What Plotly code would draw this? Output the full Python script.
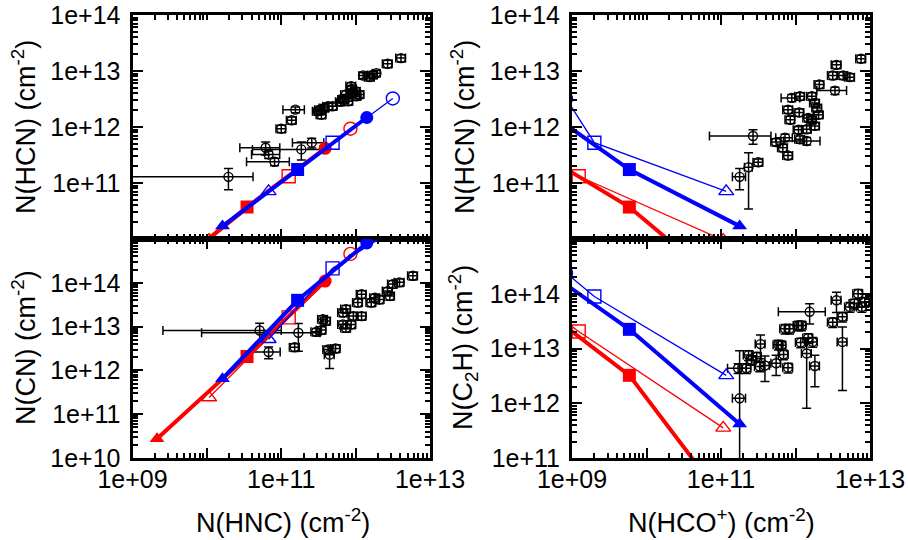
import plotly.graph_objects as go

# ---------------- model tracks (log10 column densities) ----------------
# order of points: triangle, square, circle
model_names = ["red_open", "red_filled", "blue_open", "blue_filled"]
HNC = {
    "red_filled": [9.33, 10.54, 11.59],
    "red_open": [10.03, 11.10, 11.93],
    "blue_filled": [10.21, 11.22, 12.15],
    "blue_open": [10.83, 11.69, 12.50],
}
HCOp = {
    "red_filled": [10.95, 9.77, 8.46],
    "red_open": [11.03, 9.09, 8.15],
    "blue_filled": [11.25, 9.77, 8.78],
    "blue_open": [11.07, 9.30, 8.92],
}
HCN = {
    "red_filled": [9.25, 10.57, 11.62],
    "red_open": [9.98, 11.12, 11.97],
    "blue_filled": [10.23, 11.24, 12.17],
    "blue_open": [10.85, 11.72, 12.51],
}
CN = {
    "red_filled": [10.44, 12.32, 14.04],
    "red_open": [11.38, 13.21, 14.66],
    "blue_filled": [11.81, 13.60, 14.91],
    "blue_open": [12.71, 14.33, 15.20],
}
C2H = {
    "red_filled": [10.39, 12.51, 13.87],
    "red_open": [11.55, 13.31, 14.25],
    "blue_filled": [11.62, 13.35, 14.30],
    "blue_open": [12.51, 13.95, 14.38],
}

# ---------------- observations (log10 x, log10 y, rel. err x, rel. err y) ----------------
obs_hnc_hcn_x = [10.29, 10.79, 10.83, 10.91, 11.27, 11.41, 11.00, 11.14, 11.19, 11.49, 11.54, 11.58,
                 11.63, 11.69, 11.52, 11.83, 11.87, 11.94, 11.96, 12.01, 12.05, 11.90, 12.10, 12.19,
                 12.23, 12.28, 12.43, 12.61, 11.95, 12.00, 11.80, 11.85]
obs_hnc_hcn_y = [11.11, 11.63, 11.51, 11.38, 11.60, 11.72, 11.97, 12.12, 12.31, 12.28, 12.22, 12.34,
                 12.37, 12.37, 12.31, 12.49, 12.58, 12.73, 12.61, 12.55, 12.58, 12.46, 12.92, 12.89,
                 12.93, 12.96, 13.13, 13.23, 12.68, 12.64, 12.45, 12.50]
obs_hnc_hcn_ex = [1.14, 0.55, 0.41, 0.58, 0.78, 0.45, 0.15, 0.15, 0.32, 0.15, 0.15, 0.15,
                  0.15, 0.15, 0.15, 0.15, 0.15, 0.15, 0.15, 0.15, 0.15, 0.15, 0.12, 0.15,
                  0.15, 0.12, 0.15, 0.15, 0.15, 0.15, 0.15, 0.15]
obs_hnc_hcn_ey = [0.41, 0.26, 0.15, 0.15, 0.35, 0.20, 0.15, 0.15, 0.12, 0.15, 0.15, 0.15,
                  0.15, 0.15, 0.15, 0.15, 0.15, 0.15, 0.15, 0.15, 0.15, 0.15, 0.12, 0.15,
                  0.15, 0.12, 0.15, 0.15, 0.15, 0.15, 0.15, 0.15]

obs_hco_hcn_x = [11.43, 11.25, 11.37, 11.50, 11.74, 11.86, 11.83, 11.90, 12.06, 12.15, 12.04, 12.15,
                 11.93, 11.90, 12.05, 11.95, 12.06, 12.22, 12.26, 12.29, 12.22, 12.26, 12.17, 12.31,
                 12.32, 12.53, 12.50, 12.64, 12.73, 12.55, 12.88]
obs_hco_hcn_y = [11.84, 11.11, 11.28, 11.37, 11.73, 11.81, 11.63, 11.49, 11.78, 11.75, 11.95, 11.96,
                 12.13, 12.31, 12.26, 12.52, 12.55, 12.55, 12.43, 12.34, 12.13, 12.02, 12.16, 12.22,
                 12.76, 12.65, 12.92, 12.92, 12.89, 13.11, 13.22]
obs_hco_hcn_ex = [0.74, 0.20, 0.12, 0.15, 0.15, 0.25, 0.15, 0.15, 0.15, 0.51, 0.15, 0.15,
                  0.15, 0.15, 0.15, 0.28, 0.15, 0.15, 0.15, 0.15, 0.15, 0.15, 0.15, 0.15,
                  0.15, 0.43, 0.15, 0.15, 0.15, 0.15, 0.15]
obs_hco_hcn_ey = [0.29, 0.41, 0.82, 0.15, 0.15, 0.15, 0.15, 0.15, 0.15, 0.15, 0.15, 0.15,
                  0.15, 0.15, 0.15, 0.15, 0.15, 0.15, 0.15, 0.15, 0.15, 0.15, 0.15, 0.15,
                  0.15, 0.15, 0.15, 0.15, 0.15, 0.15, 0.15]

obs_hnc_cn_x = [10.71, 10.83, 11.23, 11.18, 11.47, 11.54, 11.60, 11.63, 11.65, 11.73, 11.83, 11.87,
                11.83, 11.87, 11.94, 12.08, 12.08, 12.21, 12.26, 12.32, 12.43, 12.50, 12.59, 12.46,
                12.77, 12.03, 11.56, 11.97]
obs_hnc_cn_y = [12.91, 12.42, 12.86, 12.53, 12.88, 12.92, 13.13, 12.48, 12.36, 12.50, 13.32, 13.40,
                13.05, 12.97, 13.05, 13.24, 13.74, 13.55, 13.66, 13.62, 13.81, 13.97, 14.01, 13.70,
                14.16, 13.55, 13.17, 13.24]
obs_hnc_cn_ex = [0.95, 0.43, 0.95, 0.15, 0.15, 0.15, 0.15, 0.15, 0.15, 0.15, 0.15, 0.15,
                 0.15, 0.15, 0.15, 0.15, 0.15, 0.15, 0.15, 0.15, 0.15, 0.15, 0.15, 0.15,
                 0.15, 0.15, 0.15, 0.15]
obs_hnc_cn_ey = [0.46, 0.30, 0.62, 0.20, 0.20, 0.20, 0.20, 0.20, 0.52, 0.20, 0.20, 0.20,
                 0.20, 0.20, 0.20, 0.20, 0.20, 0.20, 0.20, 0.20, 0.20, 0.20, 0.20, 0.20,
                 0.20, 0.20, 0.20, 0.20]

obs_hco_c2h_x = [11.25, 11.23, 11.34, 11.37, 11.48, 11.41, 11.52, 11.59, 11.53, 11.74, 11.77, 11.81,
                 11.84, 11.90, 11.86, 11.92, 12.04, 12.08, 12.07, 12.17, 12.23, 12.15, 12.26, 12.19,
                 12.50, 12.63, 12.63, 12.55, 12.73, 12.84, 12.89, 12.93, 12.79]
obs_hco_c2h_y = [12.09, 12.64, 12.64, 12.88, 12.85, 12.79, 12.67, 12.69, 13.08, 12.73, 13.07, 13.06,
                 12.89, 12.65, 13.36, 13.36, 13.42, 13.42, 13.11, 13.19, 13.12, 12.91, 12.68, 13.67,
                 13.48, 13.58, 13.12, 13.88, 13.76, 14.00, 13.76, 13.85, 13.82]
obs_hco_c2h_ex = [0.20, 0.28, 0.15, 0.15, 0.15, 0.15, 0.15, 0.15, 0.15, 0.15, 0.15, 0.15,
                  0.15, 0.15, 0.15, 0.15, 0.15, 0.15, 0.15, 0.15, 0.15, 0.15, 0.15, 0.62,
                  0.15, 0.15, 0.15, 0.15, 0.15, 0.15, 0.15, 0.15, 0.15]
obs_hco_c2h_ey = [6.4, 0.20, 0.20, 0.20, 0.20, 0.20, 0.20, 0.49, 0.46, 0.40, 0.20, 0.20,
                  0.20, 0.20, 0.20, 0.20, 0.20, 0.20, 0.20, 0.20, 0.20, 0.90, 0.58, 0.40,
                  0.20, 0.20, 0.87, 0.40, 0.20, 0.20, 0.20, 0.20, 0.20]

# tick labels
x_tickvals = [1e9, 1e10, 1e11, 1e12, 1e13]
x_ticktext = ["1e+09", "", "1e+11", "", "1e+13"]
top_yvals = [1e10, 1e11, 1e12, 1e13, 1e14]
top_ytext = ["", "1e+11", "1e+12", "1e+13", "1e+14"]
bl_yvals = [1e10, 1e11, 1e12, 1e13, 1e14, 1e15]
bl_ytext = ["1e+10", "1e+11", "1e+12", "1e+13", "1e+14", ""]
br_yvals = [1e11, 1e12, 1e13, 1e14, 1e15]
br_ytext = ["1e+11", "1e+12", "1e+13", "1e+14", ""]

FONT = "Liberation Sans, Arial, Helvetica, sans-serif"
TICK_FS = 25
TITLE_FS = 27

fig = go.Figure()


def add_obs(xl, yl, exr, eyr, xa, ya):
    xs = [10 ** v for v in xl]
    ys = [10 ** v for v in yl]
    fig.add_trace(go.Scatter(
        x=xs, y=ys, xaxis=xa, yaxis=ya, mode="markers", showlegend=False,
        marker=dict(symbol="circle-open", size=9, color="black", line=dict(width=1.4, color="black")),
        error_x=dict(type="data", array=[x * r for x, r in zip(xs, exr)], symmetric=True,
                     color="black", thickness=1.5, width=4.5),
        error_y=dict(type="data", array=[y * r for y, r in zip(ys, eyr)], symmetric=True,
                     color="black", thickness=1.5, width=4.5),
    ))


def add_models(xd, yd, xa, ya):
    for name in model_names:
        color = "#ff0000" if name.startswith("red") else "#0000ff"
        filled = name.endswith("filled")
        syms = ["triangle-up", "square", "circle"]
        if not filled:
            syms = [s + "-open" for s in syms]
        fig.add_trace(go.Scatter(
            x=[10 ** v for v in xd[name]], y=[10 ** v for v in yd[name]],
            xaxis=xa, yaxis=ya, mode="lines+markers", showlegend=False,
            line=dict(color=color, width=4 if filled else 1.3),
            marker=dict(symbol=syms, size=13, color=color,
                        line=dict(width=0 if filled else 1.4, color=color)),
        ))


add_obs(obs_hnc_hcn_x, obs_hnc_hcn_y, obs_hnc_hcn_ex, obs_hnc_hcn_ey, "x", "y")
add_models(HNC, HCN, "x", "y")
add_obs(obs_hco_hcn_x, obs_hco_hcn_y, obs_hco_hcn_ex, obs_hco_hcn_ey, "x2", "y2")
add_models(HCOp, HCN, "x2", "y2")
add_obs(obs_hnc_cn_x, obs_hnc_cn_y, obs_hnc_cn_ex, obs_hnc_cn_ey, "x3", "y3")
add_models(HNC, CN, "x3", "y3")
add_obs(obs_hco_c2h_x, obs_hco_c2h_y, obs_hco_c2h_ex, obs_hco_c2h_ey, "x4", "y4")
add_models(HCOp, C2H, "x4", "y4")

W, H = 908, 540
L_dom = [132.5 / W, 430 / W]
R_dom = [572 / W, 870 / W]
T_dom = [1 - 239 / H, 1 - 15 / H]
B_dom = [1 - 458 / H, 1 - 239 / H]


def ax(domain, rng, anchor, tickvals, ticktext, show_labels, standoff):
    return dict(
        type="log", domain=domain, range=rng, anchor=anchor, automargin=False,
        showline=True, linewidth=3, linecolor="black", mirror="allticks",
        ticks="inside", ticklen=10, tickwidth=2, tickcolor="black",
        tickmode="array", tickvals=tickvals, ticktext=ticktext,
        showticklabels=show_labels, ticklabelstandoff=standoff,
        tickfont=dict(family=FONT, size=TICK_FS, color="black"),
        showgrid=False, zeroline=False,
        minor=dict(ticks="inside", ticklen=5, tickwidth=1.5, tickcolor="black",
                   dtick="D1", showgrid=False),
    )


fig.update_layout(
    width=W, height=H, margin=dict(l=0, r=0, t=0, b=0, pad=0),
    template="none",
    paper_bgcolor="white", plot_bgcolor="white",
    font=dict(family=FONT, size=TICK_FS, color="black"),
    xaxis=ax(L_dom, [9, 13], "y", x_tickvals, x_ticktext, False, -3),
    yaxis=ax(T_dom, [10, 14], "x", top_yvals, top_ytext, True, 4),
    xaxis2=ax(R_dom, [9, 13], "y2", x_tickvals, x_ticktext, False, -3),
    yaxis2=ax(T_dom, [10, 14], "x2", top_yvals, top_ytext, True, 4),
    xaxis3=ax(L_dom, [9, 13], "y3", x_tickvals, x_ticktext, True, -3),
    yaxis3=ax(B_dom, [10, 15], "x3", bl_yvals, bl_ytext, True, 4),
    xaxis4=ax(R_dom, [9, 13], "y4", x_tickvals, x_ticktext, True, -3),
    yaxis4=ax(B_dom, [11, 15], "x4", br_yvals, br_ytext, True, 4),
)

ann_font = dict(family=FONT, size=TITLE_FS, color="black")
titles = [
    ("N(HCN) (cm<sup>-2</sup>)", 24 / W, 1 - 127 / H, -90),
    ("N(CN) (cm<sup>-2</sup>)", 24 / W, 1 - 348 / H, -90),
    ("N(HCN) (cm<sup>-2</sup>)", 463 / W, 1 - 127 / H, -90),
    ("N(C<sub>2</sub>H) (cm<sup>-2</sup>)", 463 / W, 1 - 348 / H, -90),
    ("N(HNC) (cm<sup>-2</sup>)", 283 / W, 1 - 521 / H, 0),
    ("N(HCO<sup>+</sup>) (cm<sup>-2</sup>)", 721 / W, 1 - 521 / H, 0),
]
for text, x, y, ang in titles:
    fig.add_annotation(text=text, x=x, y=y, xref="paper", yref="paper", showarrow=False,
                       textangle=ang, font=ann_font, xanchor="center", yanchor="middle")

fig.write_html("out.html", config={"displayModeBar": False},
               post_script="document.body.style.margin='0';")
